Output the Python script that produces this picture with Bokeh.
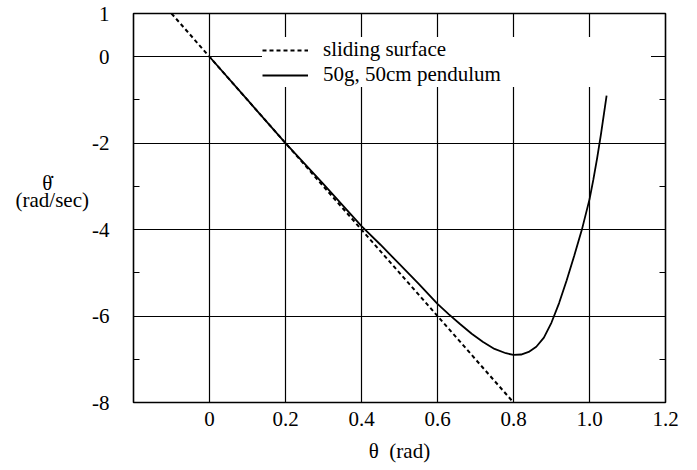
from bokeh.plotting import figure
from bokeh.models import FixedTicker, LinearAxis, Legend, LegendItem
from bokeh.embed import file_html
from bokeh.resources import INLINE

# ---- data ----
sliding_theta = [-0.1, 0.8]
sliding_thetadot = [1.0, -8.0]

pend_theta = [0, 0.1, 0.2, 0.3, 0.4, 0.45, 0.5, 0.55, 0.6, 0.63, 0.66, 0.69, 0.72, 0.75,
              0.78, 0.8, 0.82, 0.84, 0.86, 0.88, 0.9, 0.92, 0.94, 0.96, 0.98, 1.0,
              1.01, 1.02, 1.03, 1.045]
pend_thetadot = [0, -1.0, -2.0, -2.95, -3.92, -4.35, -4.8, -5.25, -5.72, -5.96, -6.19,
                 -6.41, -6.6, -6.76, -6.86, -6.9, -6.89, -6.83, -6.71, -6.5, -6.15, -5.7,
                 -5.17, -4.6, -4.0, -3.3, -2.85, -2.35, -1.8, -0.9]

x_ticks = [0, 0.2, 0.4, 0.6, 0.8, 1.0, 1.2]
x_tick_labels = ["0", "0.2", "0.4", "0.6", "0.8", "1.0", "1.2"]
y_ticks = [-8, -6, -4, -2, 0, 1]
y_tick_labels = ["-8", "-6", "-4", "-2", "0", "1"]
y_minor = [-7, -5, -3, -1]

FONT = "Liberation Serif"
FS = "21px"

p = figure(width=697, height=470, x_range=(-0.2, 1.2), y_range=(-8, 1),
           output_backend="svg", toolbar_location=None,
           min_border_left=133, min_border_right=32, min_border_top=13,
           min_border_bottom=68)
p.background_fill_color = "white"
p.border_fill_color = "white"
p.outline_line_color = "black"
p.outline_line_width = 1.6

# axes
xa = p.xaxis[0]
xa.ticker = FixedTicker(ticks=x_ticks)
xa.major_label_overrides = dict(zip(x_ticks, x_tick_labels))
xa.axis_line_color = None
xa.major_tick_in = 0
xa.major_tick_out = 0
xa.minor_tick_line_color = None
xa.major_label_standoff = 9
xa.major_label_text_font = FONT
xa.major_label_text_font_size = FS
xa.major_label_text_color = "black"
xa.axis_label = "\u03b8\u00a0 (rad)"
xa.axis_label_text_font = FONT
xa.axis_label_text_font_size = FS
xa.axis_label_text_font_style = "normal"
xa.axis_label_standoff = 10
xa.axis_label_text_color = "black"

ya = p.yaxis[0]
ya.ticker = FixedTicker(ticks=y_ticks, minor_ticks=y_minor)
ya.major_label_overrides = dict(zip(y_ticks, y_tick_labels))
ya.axis_line_color = None
ya.major_tick_in = 0
ya.major_tick_out = 0
ya.minor_tick_in = 6
ya.minor_tick_out = 0
ya.minor_tick_line_color = "black"
ya.minor_tick_line_width = 1.2
ya.major_label_standoff = 24
ya.major_label_text_font = FONT
ya.major_label_text_font_size = FS
ya.major_label_text_color = "black"
ya.axis_label = ("\u03b8\u0307" + "\u00a0" * 7 + "\n(rad/sec)\n\u00a0\n\u00a0")
ya.axis_label_orientation = "horizontal"
ya.axis_label_text_font = FONT
ya.axis_label_text_font_size = FS
ya.axis_label_text_font_style = "normal"
ya.axis_label_text_color = "black"
ya.axis_label_text_line_height = 0.7
ya.axis_label_standoff = 0

ra = LinearAxis(ticker=FixedTicker(ticks=y_ticks, minor_ticks=y_minor))
ra.axis_line_color = None
ra.major_tick_in = 0
ra.major_tick_out = 0
ra.minor_tick_in = 6
ra.minor_tick_out = 0
ra.minor_tick_line_color = "black"
ra.minor_tick_line_width = 1.2
ra.major_label_text_alpha = 0
ra.major_label_text_font_size = "1px"
p.add_layout(ra, "right")

p.xgrid.ticker = FixedTicker(ticks=x_ticks)
p.ygrid.ticker = FixedTicker(ticks=y_ticks)
p.xgrid.grid_line_color = "black"
p.ygrid.grid_line_color = "black"
p.xgrid.grid_line_width = 1.2
p.ygrid.grid_line_width = 1.2

r_sl = p.line(sliding_theta, sliding_thetadot, line_color="black", line_width=2,
              line_dash="4 3")
r_pd = p.line(pend_theta, pend_thetadot, line_color="black", line_width=1.8)

legend = Legend(items=[LegendItem(label="sliding surface", renderers=[r_sl]),
                       LegendItem(label="50g, 50cm pendulum", renderers=[r_pd])],
                location=(129, 315))
legend.background_fill_color = "white"
legend.background_fill_alpha = 1.0
legend.border_line_color = None
legend.padding = 15
legend.margin = 0
legend.spacing = 0
legend.glyph_width = 46
legend.glyph_height = 20
legend.label_height = 20
legend.label_width = 328
legend.label_standoff = 15
legend.label_text_font = FONT
legend.label_text_font_size = FS
legend.label_text_color = "black"
legend.label_text_baseline = "middle"
legend.label_text_line_height = 0.9
p.add_layout(legend)

open("out.html", "w").write(file_html(p, INLINE))
